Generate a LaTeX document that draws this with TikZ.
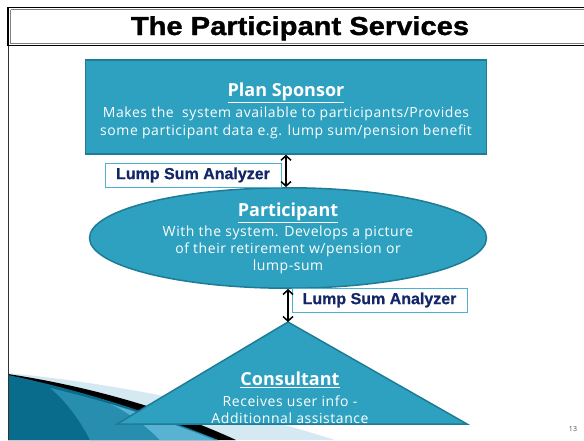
\documentclass[tikz,border=0pt]{standalone}
\usepackage{xcolor}
\usepackage{fontspec}
\setmainfont[LetterSpace=4]{Open Sans}
\newfontfamily\headfont{Open Sans}
\newfontfamily\titlefont[FakeStretch=1.12,FakeBold=1.2]{Liberation Sans}
\newfontfamily\lsafont[FakeBold=0.8]{Liberation Sans}
\usepackage{tikz}
\usetikzlibrary{arrows,arrows.meta,shapes.geometric}
\definecolor{shapefill}{RGB}{45,161,191}
\definecolor{shapeedge}{RGB}{30,124,150}
\definecolor{lsanavy}{RGB}{18,38,104}
\definecolor{lsaedge}{RGB}{80,176,208}
\definecolor{swdark}{RGB}{10,108,140}
\definecolor{swmid}{RGB}{40,142,175}
\definecolor{swlight}{RGB}{88,178,210}
\definecolor{swpale}{RGB}{212,233,242}

\begin{document}
\begin{tikzpicture}[x=1pt,y=-1pt,>={Straight Barb[length=4.5pt,width=10pt]},
    shapebox/.style={fill=shapefill,draw=shapeedge,line width=1.5pt,text=white,align=center,inner sep=0pt,font=\fontsize{14}{18}\selectfont},
    lumpbox/.style={draw=lsaedge,fill=white,line width=0.9pt,minimum height=24pt,inner sep=0pt,text=lsanavy,font=\lsafont\bfseries\fontsize{16}{18}\selectfont}]
        \useasboundingbox (0,0) rectangle (584,440);
        \fill[swpale] (8,373) .. controls (130,385) and (240,410) .. (335,440) -- (8,440) -- cycle;
        \fill[black] (8,374) .. controls (100,388) and (180,414) .. (236,440) -- (8,440) -- cycle;
        \fill[swdark] (8,375) .. controls (90,392) and (165,418) .. (218,440) -- (8,440) -- cycle;
        \fill[swmid] (50,388) .. controls (110,402) and (170,422) .. (218,440) -- (90,440) .. controls (80,420) and (65,400) .. (50,388) -- cycle;
        \fill[swlight] (110,404) .. controls (150,416) and (185,428) .. (214,440) -- (160,440) .. controls (145,425) and (125,410) .. (110,404) -- cycle;
        \draw[black!80, line width=1pt] (8,45) -- (8,440);
        \draw[line width=1.8pt] (8,7.5) rectangle (590,45.5);
        \draw[gray, line width=0.8pt] (10.5,9.5) -- (590,9.5) (10.5,9.5) -- (10.5,43.5) -- (590,43.5);
        \node[anchor=base, font=\titlefont\bfseries\fontsize{26}{30}\selectfont] (title) at (300,35) {The Participant Services};
        \node[shapebox, rectangle, minimum width=401pt, minimum height=94pt] (sponsor) at (286,107)
            {\rule{0pt}{22pt}{\headfont\bfseries\fontsize{18}{20}\selectfont\underline{Plan Sponsor}}\\[3pt]
             Makes the\ \ system available to participants/Provides\\
             some participant data e.g. lump sum/pension benefit};
        \node[shapebox, ellipse, minimum width=397pt, minimum height=86pt, font=\fontsize{14}{17}\selectfont] (participant) at (288,238)
            {{\headfont\bfseries\fontsize{18}{20}\selectfont\underline{Participant}}\\[3pt]
             With the system. Develops a picture\\
             of their retirement w/pension or\\
             lump-sum};
        \coordinate (apex) at (288,322);
        \fill[shapefill, draw=shapeedge, line width=1.5pt] (apex) -- (467,424) -- (117,424) -- cycle;
        \node[text=white, align=center, inner sep=0pt, font=\fontsize{14}{17.5}\selectfont] (consultant) at (290,398)
            {{\headfont\bfseries\fontsize{18}{20}\selectfont\underline{Consultant}}\\[3pt]
             Receives user info -\\
             Additionnal assistance};
        \node[lumpbox, minimum width=176pt] (lsa1) at (193,175) {Lump Sum Analyzer};
        \node[lumpbox, minimum width=175pt] (lsa2) at (379.5,300) {Lump Sum Analyzer};
        \draw[<->, line width=1.5pt] (sponsor.south) -- (sponsor.south |- participant.north);
        \draw[<->, line width=1.5pt] (participant.south -| apex) -- (apex);
        \node[text=black!70, font=\fontsize{7}{8}\selectfont] (pageno) at (573,429) {13};
\end{tikzpicture}
\end{document}
